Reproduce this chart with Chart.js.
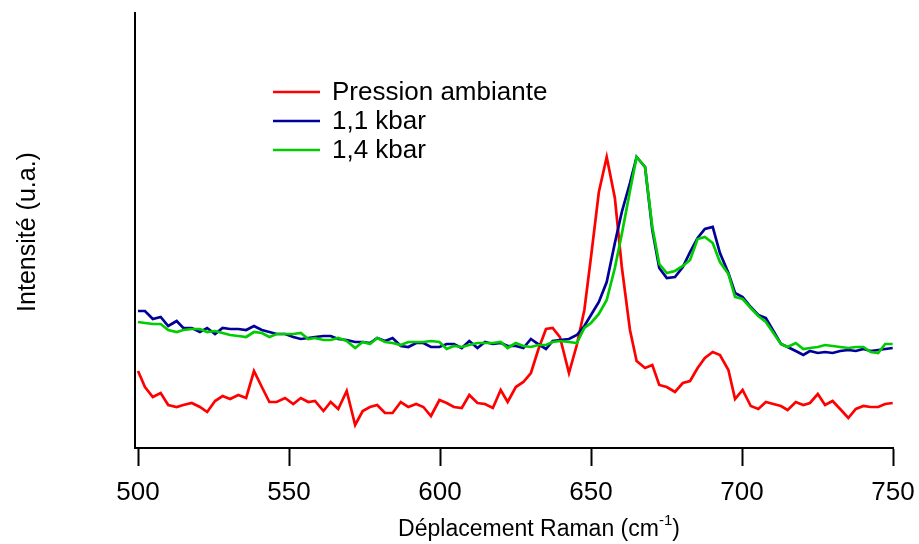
<!DOCTYPE html>
<html>
<head>
<meta charset="utf-8">
<script src="https://cdn.jsdelivr.net/npm/chart.js@4.4.1/dist/chart.umd.min.js"></script>
<style>
  html, body { margin: 0; padding: 0; background: #ffffff; }
  #wrap { width: 919px; height: 544px; position: relative; }
</style>
</head>
<body>
<div id="wrap"><canvas id="c" width="919" height="544"></canvas></div>
<script>
// Raman shift of each sampled point (cm-1)
const shifts = [
  500.0,502.3,504.9,507.5,510.0,512.8,515.0,517.8,520.5,522.9,
  525.5,528.0,530.5,533.2,535.8,538.4,541.0,543.5,545.9,548.7,
  551.4,553.9,556.4,558.6,561.4,563.8,566.3,569.1,571.9,574.4,
  576.8,579.2,581.8,584.3,587.0,589.5,592.1,594.5,597.0,599.8,
  602.2,604.6,607.2,609.7,612.4,614.9,617.5,620.1,622.4,625.1,
  627.6,630.1,632.5,635.1,637.3,639.7,642.7,645.3,647.8,650.0,
  652.6,655.2,657.9,660.2,662.9,665.1,667.9,670.3,672.6,675.1,
  677.8,680.4,682.8,685.3,687.7,690.3,692.7,695.5,697.7,700.2,
  702.9,705.4,707.9,710.4,712.9,715.1,717.8,720.3,722.5,725.1,
  727.5,730.0,732.5,735.2,737.7,740.2,742.6,745.1,747.4,749.9
];

// Intensity at ambient pressure
const ambient = [
  77,61,51,55,43,41,43,45,41,36,
  47,52,49,53,50,77,61,46,46,50,
  44,50,46,47,37,46,39,57,23,37,
  41,43,35,35,46,41,44,41,32,48,
  45,41,40,53,45,44,40,58,46,61,
  66,75,98,119,120,111,75,103,138,191,
  256,291,250,181,118,87,80,83,63,61,
  56,65,67,80,90,96,93,78,49,58,
  42,39,46,44,42,38,46,43,45,54,
  43,47,39,30,39,42,41,41,44,45
];

// Intensity at 1.1 kbar
const kbar11 = [
  137,137,129,131,122,127,120,120,116,120,
  114,120,119,119,118,122,118,116,114,114,
  111,109,110,111,112,112,109,108,106,106,
  105,110,107,110,102,101,105,105,101,101,
  104,104,100,107,100,106,104,105,102,102,
  100,109,104,99,107,108,109,113,122,133,
  146,166,205,236,265,291,281,218,180,170,
  171,181,196,210,219,221,195,175,155,151,
  141,133,130,117,104,101,97,93,97,95,
  96,95,97,98,97,99,97,98,99,100
];

// Intensity at 1.4 kbar
const kbar14 = [
  126,125,124,124,118,116,118,119,119,116,
  117,115,113,112,111,116,115,111,114,114,
  114,115,109,110,108,108,110,107,100,106,
  104,110,106,105,103,106,106,106,107,106,
  99,102,101,103,105,105,105,106,100,105,
  102,101,103,103,106,107,106,105,120,125,
  134,148,180,214,257,291,281,221,184,175,
  177,182,188,209,211,205,186,174,151,149,
  140,132,126,115,104,101,105,99,100,101,
  103,102,101,100,101,101,96,95,104,104
];

const seriesLabels = ['Pression ambiante', '1,1 kbar', '1,4 kbar'];
const seriesColors = ['#ff0000', '#000099', '#00cc00'];
const xTickValues = [500, 550, 600, 650, 700, 750];
const xTitleMain = 'Déplacement Raman (cm';
const xTitleSup = '-1';
const xTitleEnd = ')';
const yTitle = 'Intensité (u.a.)';

const FONT = '"Liberation Sans", Arial, Helvetica, sans-serif';

function points(values) {
  return shifts.map((x, i) => ({ x: x, y: values[i] }));
}

// Legend drawn inside the plot area, Igor-style
const insideLegend = {
  id: 'insideLegend',
  afterDatasetsDraw(chart) {
    const ctx = chart.ctx;
    ctx.save();
    ctx.font = '26px ' + FONT;
    ctx.textBaseline = 'middle';
    ctx.textAlign = 'left';
    chart.data.datasets.forEach((ds, i) => {
      const y = 92 + i * 29;
      ctx.strokeStyle = ds.borderColor;
      ctx.lineWidth = 2.7;
      ctx.beginPath();
      ctx.moveTo(273, y);
      ctx.lineTo(320, y);
      ctx.stroke();
      ctx.fillStyle = '#000';
      ctx.fillText(ds.label, 332, y + 1);
    });
    ctx.restore();
  }
};

// Axis titles (x title carries a superscript exponent)
const axisTitles = {
  id: 'axisTitles',
  afterDraw(chart) {
    const ctx = chart.ctx;
    const area = chart.chartArea;
    ctx.save();
    ctx.fillStyle = '#000';
    ctx.textBaseline = 'alphabetic';
    ctx.textAlign = 'left';
    const mainFont = '23px ' + FONT;
    const supFont = '15px ' + FONT;
    ctx.font = mainFont;
    const wMain = ctx.measureText(xTitleMain).width;
    const wEnd = ctx.measureText(xTitleEnd).width;
    ctx.font = supFont;
    const wSup = ctx.measureText(xTitleSup).width;
    const total = wMain + wSup + wEnd;
    const cx = 539;
    let x = cx - total / 2;
    const base = 536;
    ctx.font = mainFont;
    ctx.fillText(xTitleMain, x, base);
    x += wMain;
    ctx.font = supFont;
    ctx.fillText(xTitleSup, x, base - 11);
    x += wSup;
    ctx.font = mainFont;
    ctx.fillText(xTitleEnd, x, base);

    ctx.translate(28, 232);
    ctx.rotate(-Math.PI / 2);
    ctx.textAlign = 'center';
    ctx.textBaseline = 'middle';
    ctx.font = '25px ' + FONT;
    ctx.fillText(yTitle, 0, 0);
    ctx.restore();
  }
};

new Chart(document.getElementById('c'), {
  type: 'line',
  data: {
    datasets: [
      { label: seriesLabels[0], data: points(ambient), borderColor: seriesColors[0], order: 2 },
      { label: seriesLabels[1], data: points(kbar11), borderColor: seriesColors[1], order: 1 },
      { label: seriesLabels[2], data: points(kbar14), borderColor: seriesColors[2], order: 0 }
    ]
  },
  options: {
    responsive: false,
    animation: false,
    devicePixelRatio: 1,
    events: [],
    layout: { padding: { left: 135, right: 26, top: 13, bottom: 0 } },
    elements: {
      point: { radius: 0 },
      line: { borderWidth: 2.7, tension: 0, fill: false }
    },
    plugins: {
      legend: { display: false },
      tooltip: { enabled: false }
    },
    scales: {
      x: {
        type: 'linear',
        min: 499,
        max: 750,
        afterBuildTicks(scale) {
          scale.ticks = xTickValues.map(v => ({ value: v }));
        },
        afterFit(scale) {
          scale.height = 96;
          scale.paddingLeft = 0;
          scale.paddingRight = 0;
        },
        ticks: {
          color: '#000',
          font: { family: FONT, size: 26 },
          padding: 11,
          maxRotation: 0,
          autoSkip: false
        },
        grid: {
          drawOnChartArea: false,
          drawTicks: true,
          tickLength: 18,
          tickWidth: 2,
          tickColor: '#000'
        },
        border: { display: true, color: '#000', width: 2 }
      },
      y: {
        min: 0,
        max: 435,
        afterFit(scale) {
          scale.width = 0;
          scale.paddingTop = 0;
          scale.paddingBottom = 0;
        },
        ticks: { display: false },
        grid: { drawOnChartArea: false, drawTicks: false },
        border: { display: true, color: '#000', width: 2 }
      }
    }
  },
  plugins: [insideLegend, axisTitles]
});
</script>
</body>
</html>
